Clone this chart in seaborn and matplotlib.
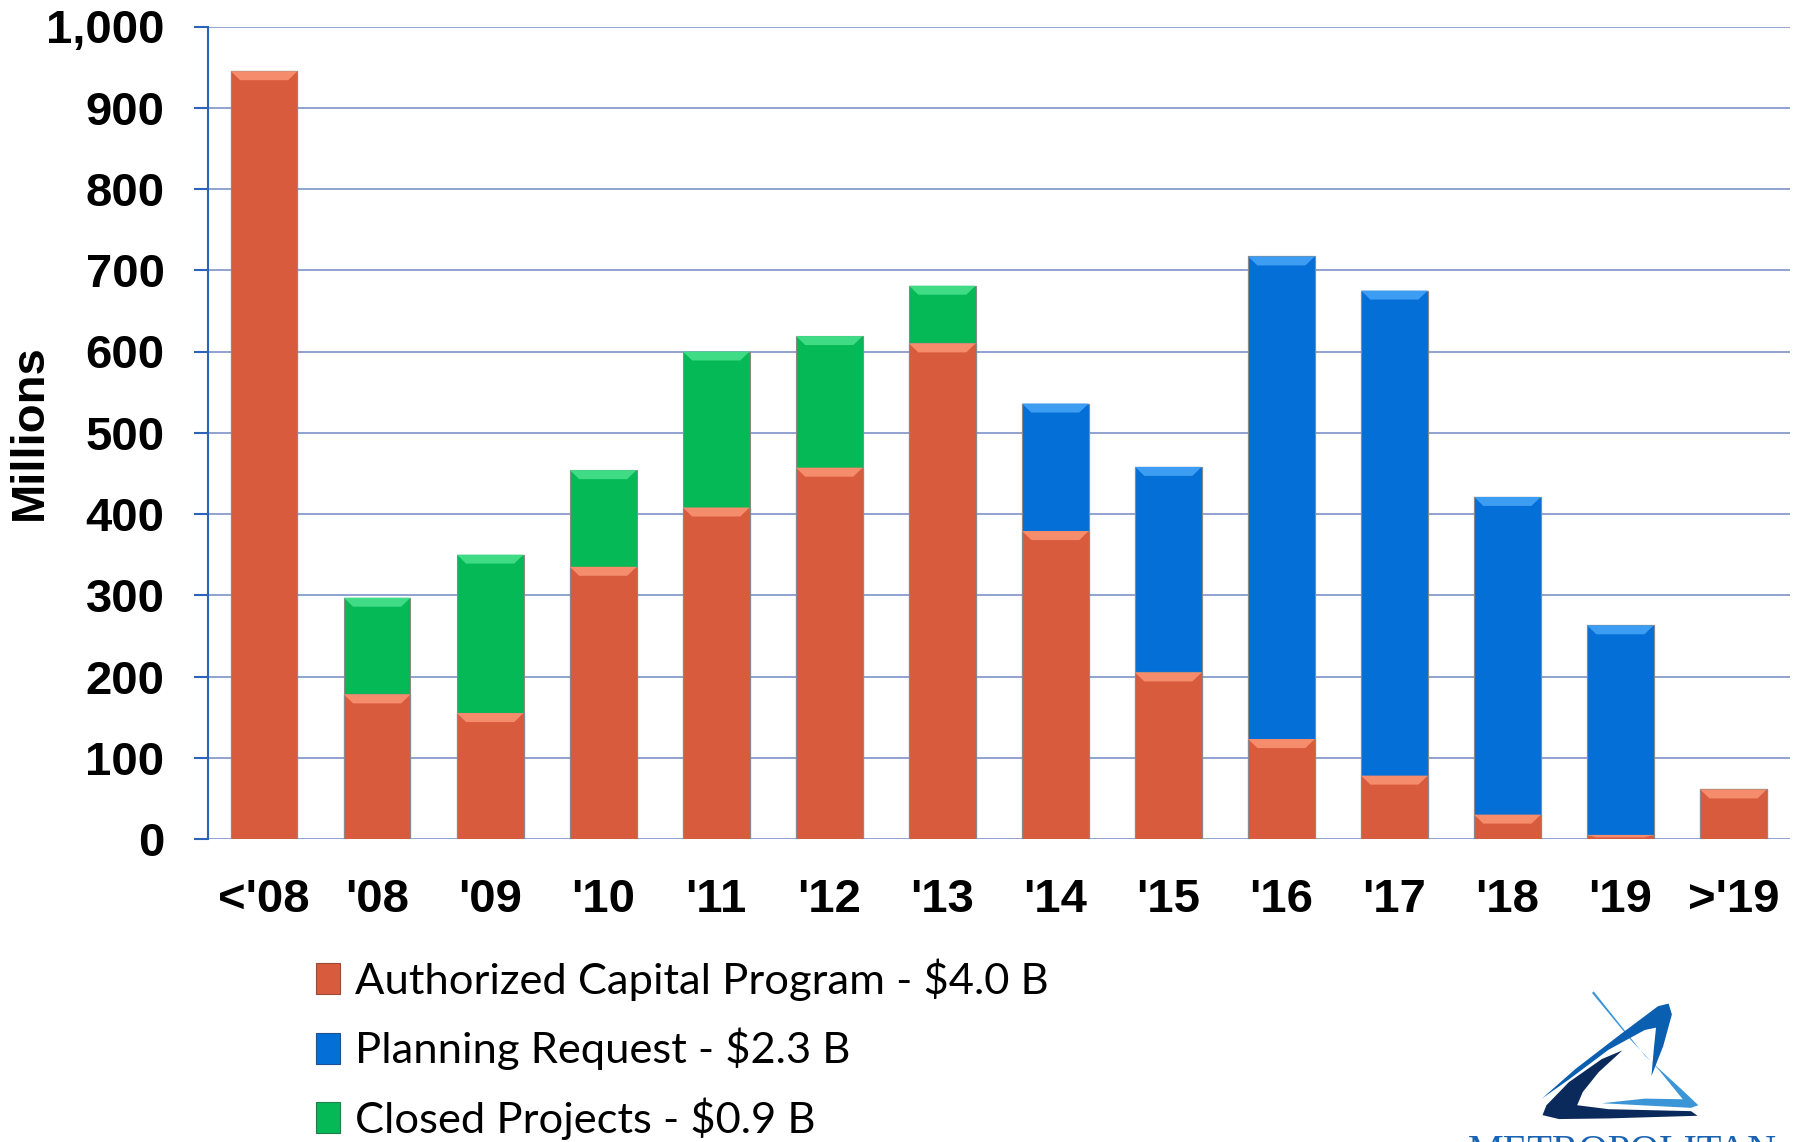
import matplotlib
matplotlib.use("Agg")
import numpy as np
import pandas as pd
import matplotlib.pyplot as plt
import seaborn as sns
from matplotlib.patches import Patch, Polygon

# ---------------- data ----------------
categories = ["<'08", "'08", "'09", "'10", "'11", "'12", "'13",
              "'14", "'15", "'16", "'17", "'18", "'19", ">'19"]
authorized = [945, 178, 155, 335, 408, 457, 610, 379, 205, 123, 78, 30, 5, 61]
planning = [0, 0, 0, 0, 0, 0, 0, 157, 253, 594, 597, 391, 258, 0]
closed = [0, 119, 195, 119, 192, 162, 71, 0, 0, 0, 0, 0, 0, 0]
legend_labels = ["Authorized Capital Program - $4.0 B",
                 "Planning Request - $2.3 B",
                 "Closed Projects - $0.9 B"]
y_ticks = [0, 100, 200, 300, 400, 500, 600, 700, 800, 900, 1000]
y_label = "Millions"
logo_text = "METROPOLITAN"

# ---------------- style ----------------
ORANGE = "#D95B3D"
BLUE = "#056FD8"
GREEN = "#05B956"
HIGHLIGHT = {ORANGE: "#F58C6B", BLUE: "#3D9DF2", GREEN: "#3FDB85"}
GRID = "#8FA2CE"
AXIS_BLUE = "#2A63B8"

sns.set_theme(style="white")
plt.rcParams['font.family'] = ['Liberation Sans', 'DejaVu Sans']
plt.rcParams['text.color'] = 'black'

W, H = 1798, 1142
fig = plt.figure(figsize=(W / 100, H / 100), dpi=100)
left_px, right_px, top_px, bot_px = 207.6, 1790, 26.5, 839
ax = fig.add_axes([left_px / W, 1 - bot_px / H,
                   (right_px - left_px) / W, (bot_px - top_px) / H])

df = pd.DataFrame({"cat": categories, "auth": authorized,
                   "plan": planning, "closed": closed})
df["lvl2"] = df["auth"] + df["plan"]
df["lvl3"] = df["lvl2"] + df["closed"]

layers = [("lvl3", GREEN), ("lvl2", BLUE), ("auth", ORANGE)]
for col, c in layers:
    sns.barplot(data=df, x="cat", y=col, order=categories, color=c,
                saturation=1, width=0.59, ax=ax, edgecolor="#8a8a8a",
                linewidth=0.8, errorbar=None, zorder=3)

# bevel highlight on top of every visible segment
orange_patches = ax.patches[-len(categories):]
px_per_unit_y = (bot_px - top_px) / 1000.0
bevel_h = 9 / px_per_unit_y
for i, p in enumerate(orange_patches):
    x0 = p.get_x()
    w = p.get_width()
    x1 = x0 + w
    d = w * 0.14
    segs = [(0, authorized[i], ORANGE),
            (authorized[i], authorized[i] + planning[i], BLUE),
            (authorized[i] + planning[i],
             authorized[i] + planning[i] + closed[i], GREEN)]
    for lo, hi, c in segs:
        if hi - lo <= 0:
            continue
        h = min(bevel_h, (hi - lo) * 0.6)
        poly = Polygon([(x0, hi), (x1, hi), (x1 - d, hi - h), (x0 + d, hi - h)],
                       closed=True, facecolor=HIGHLIGHT[c], edgecolor="none",
                       zorder=4)
        ax.add_patch(poly)

ax.set_ylim(0, 1000)
ax.set_xlim(-0.5, len(categories) - 0.5)
ax.set_yticks(y_ticks)
ax.set_yticklabels([f"{v:,}" for v in y_ticks])
ax.yaxis.grid(True, color=GRID, linewidth=1.4, zorder=0)
ax.xaxis.grid(False)
ax.set_axisbelow(True)
for s in ["top", "right", "bottom"]:
    ax.spines[s].set_visible(False)
ax.spines["left"].set_color(AXIS_BLUE)
ax.spines["left"].set_linewidth(1.5)
ax.spines["left"].set_zorder(5)

ax.tick_params(axis="y", direction="out", length=10, width=1.5,
               color=AXIS_BLUE, pad=21, labelsize=34, left=True)
ax.tick_params(axis="x", length=0, pad=28, labelsize=34)
for t in ax.get_yticklabels() + ax.get_xticklabels():
    t.set_fontweight("bold")
    t.set_color("black")

ax.set_xlabel("")
ax.set_ylabel(y_label, fontsize=34, fontweight="bold", color="black")
ax.yaxis.set_label_coords((51.6 - left_px) / (right_px - left_px), 0.501)

# ---------------- legend ----------------
handles = [Patch(facecolor=ORANGE, edgecolor="#9a4a36", linewidth=0.8),
           Patch(facecolor=BLUE, edgecolor="#1f4f90", linewidth=0.8),
           Patch(facecolor=GREEN, edgecolor="#1f7f4a", linewidth=0.8)]
leg = fig.legend(handles=handles, labels=legend_labels, loc="center left",
                 bbox_to_anchor=(316 / W, 1 - 1049 / H), frameon=False,
                 prop={"family": "Lato", "size": 31.3},
                 handlelength=0.55, handleheight=0.72, handletextpad=0.35,
                 labelspacing=0.62, borderpad=0, borderaxespad=0)
for t in leg.get_texts():
    t.set_color("black")

# ---------------- logo (decorative) ----------------
def to_fig(pts):
    return [((1460 + x / 3.03) / W, 1 - (960 + y / 3.03) / H) for x, y in pts]

navy = [(250, 470), (300, 482), (450, 480), (720, 472), (700, 458),
        (450, 452), (355, 440), (372, 400), (420, 340), (492, 274),
        (430, 300), (330, 370), (262, 440)]
mid = [(248, 420), (350, 330), (480, 230), (600, 140), (632, 132),
       (642, 165), (616, 260), (580, 352), (588, 262), (594, 205),
       (560, 212), (450, 272), (330, 362)]
light = [(405, 95), (560, 290), (680, 400), (722, 440), (700, 448),
         (430, 434), (560, 420), (675, 422), (600, 330), (520, 245),
         (400, 100)]
for pts, c in [(light, "#3B95D6"), (mid, "#0A5FB0"), (navy, "#0B2A5C")]:
    fig.patches.append(Polygon(to_fig(pts), closed=True, facecolor=c,
                               edgecolor="none", transform=fig.transFigure,
                               figure=fig))
fig.text(1622 / W, 1 - 1134 / H, logo_text, ha="center", va="top",
         fontsize=29, color="#1a63b0", family="Liberation Serif")

fig.savefig("out.png", dpi=100)
